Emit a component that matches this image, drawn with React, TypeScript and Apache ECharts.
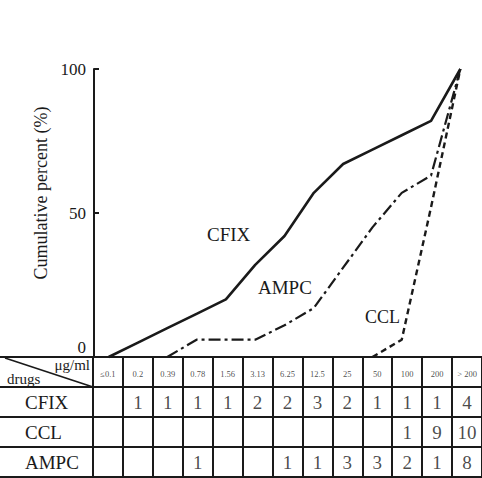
import React, { useEffect, useRef } from "react";
import * as echarts from "echarts";

// ---- data ----
const concentrations = ["≤0.1", "0.2", "0.39", "0.78", "1.56", "3.13", "6.25", "12.5", "25", "50", "100", "200", "> 200"];
const drugs = ["CFIX", "CCL", "AMPC"];
const cfixCounts = [null, 1, 1, 1, 1, 2, 2, 3, 2, 1, 1, 1, 4];
const cclCounts = [null, null, null, null, null, null, null, null, null, null, 1, 9, 10];
const ampcCounts = [null, null, null, 1, null, null, 1, 1, 3, 3, 2, 1, 8];
const cfixCumulative = [0, 5, 10, 15, 20, 32, 42, 57, 67, 72, 77, 82, 100];
const ampcCumulative = [null, null, 0, 6, 6, 6, 11, 17, 31, 45, 57, 63, 100];
const cclCumulative = [null, null, null, null, null, null, null, null, null, 0, 6, 52, 100];
const yMin = 0;
const yMax = 100;
const yInterval = 50;

// ---- layout ----
const W = 482;
const H = 478;
const FONT = "'Liberation Serif', 'Times New Roman', serif";
const INK = "#1a1a1a";
const TABLE_TOP = 357;
const ROW_H = 30;
const TABLE_LEFT = 93;
const ROW_KEYS = ["hdr", ...drugs];

export default function App() {
  const ref = useRef<HTMLDivElement>(null);

  useEffect(() => {
    if (!ref.current) return;
    const chart = echarts.init(ref.current, undefined, { renderer: "svg" });

    const countsByDrug: Record<string, (number | null)[]> = {
      CFIX: cfixCounts,
      CCL: cclCounts,
      AMPC: ampcCounts,
    };
    const headerData = concentrations.map((c, i) => [i, "hdr", c]);
    const countData: any[] = [];
    drugs.forEach((d) => {
      countsByDrug[d].forEach((v, i) => {
        if (v != null) countData.push([i, d, v]);
      });
    });

    const graphics: any[] = [];
    // first-column horizontal lines
    for (let r = 0; r <= ROW_KEYS.length; r++) {
      const y = TABLE_TOP + r * ROW_H;
      graphics.push({
        type: "line",
        shape: { x1: 0, y1: y, x2: TABLE_LEFT, y2: y },
        style: { stroke: INK, lineWidth: 2 },
      });
    }
    graphics.push({
      type: "line",
      shape: { x1: 5, y1: TABLE_TOP + 1, x2: TABLE_LEFT, y2: TABLE_TOP + ROW_H },
      style: { stroke: INK, lineWidth: 1.6 },
    });
    graphics.push({
      type: "text",
      x: 7,
      y: TABLE_TOP + 22,
      style: { text: "drugs", font: `15px ${FONT}`, fill: INK, verticalAlign: "middle", align: "left" },
    });
    graphics.push({
      type: "text",
      x: 90,
      y: TABLE_TOP + 8,
      style: { text: "μg/ml", font: `15px ${FONT}`, fill: INK, verticalAlign: "middle", align: "right" },
    });
    const curveLabels = [
      { text: "CFIX", x: 207, y: 234, size: 19 },
      { text: "AMPC", x: 258, y: 287, size: 19 },
      { text: "CCL", x: 365, y: 317, size: 18 },
    ];
    curveLabels.forEach((l) =>
      graphics.push({
        type: "text",
        x: l.x,
        y: l.y,
        style: { text: l.text, font: `${l.size}px ${FONT}`, fill: INK, verticalAlign: "middle", align: "left" },
      })
    );

    chart.setOption({
      animation: false,
      backgroundColor: "#ffffff",
      textStyle: { fontFamily: FONT, color: INK },
      grid: [
        { left: 94, right: 7, top: 69, height: TABLE_TOP - 69 },
        { left: TABLE_LEFT, right: 0, top: TABLE_TOP, height: ROW_H * ROW_KEYS.length },
      ],
      xAxis: [
        {
          gridIndex: 0,
          type: "category",
          data: concentrations,
          boundaryGap: true,
          axisLine: { show: false },
          axisTick: { show: false },
          axisLabel: { show: false },
          splitLine: { show: false },
        },
        {
          gridIndex: 1,
          type: "category",
          data: concentrations,
          position: "top",
          boundaryGap: true,
          axisLine: { show: true, lineStyle: { color: INK, width: 2 } },
          axisTick: { show: false, interval: 0 },
          axisLabel: { show: false, interval: 0 },
          splitLine: { show: true, interval: 0, lineStyle: { color: INK, width: 2 } },
        },
      ],
      yAxis: [
        {
          gridIndex: 0,
          type: "value",
          min: yMin,
          max: yMax,
          interval: yInterval,
          name: "Cumulative percent (%)",
          nameLocation: "middle",
          nameRotate: 90,
          nameGap: 44,
          nameTextStyle: { fontFamily: FONT, fontSize: 18, color: INK, padding: [0, 0, 0, 40] },
          axisLine: { show: true, lineStyle: { color: INK, width: 2 } },
          axisTick: { show: true, inside: true, length: 5, lineStyle: { color: INK, width: 2 } },
          splitLine: { show: false },
          axisLabel: {
            margin: 8,
            fontFamily: FONT,
            fontSize: 17,
            color: INK,
            formatter: (v: number) => (v === 0 ? "{z|0}" : String(v)),
            rich: { z: { padding: [0, 0, 20, 0], fontFamily: FONT, fontSize: 17, color: INK } },
          },
        },
        {
          gridIndex: 1,
          type: "category",
          data: ROW_KEYS,
          inverse: true,
          boundaryGap: true,
          axisLine: { show: true, lineStyle: { color: INK, width: 2 } },
          axisTick: { show: false, interval: 0 },
          splitLine: { show: true, interval: 0, lineStyle: { color: INK, width: 2 } },
          axisLabel: {
            interval: 0,
            align: "left",
            margin: 68,
            fontFamily: FONT,
            fontSize: 19,
            color: INK,
            formatter: (v: string) => (v === "hdr" ? "" : v),
          },
        },
      ],
      series: [
        {
          name: "CFIX",
          type: "line",
          xAxisIndex: 0,
          yAxisIndex: 0,
          data: cfixCumulative,
          symbol: "none",
          clip: false,
          lineStyle: { color: INK, width: 2.6, type: "solid" },
        },
        {
          name: "AMPC",
          type: "line",
          xAxisIndex: 0,
          yAxisIndex: 0,
          data: ampcCumulative,
          symbol: "none",
          clip: false,
          lineStyle: { color: INK, width: 2.2, type: [12, 4, 3, 4] },
        },
        {
          name: "CCL",
          type: "line",
          xAxisIndex: 0,
          yAxisIndex: 0,
          data: cclCumulative,
          symbol: "none",
          clip: false,
          lineStyle: { color: INK, width: 2.4, type: [6, 4] },
        },
        {
          type: "scatter",
          xAxisIndex: 1,
          yAxisIndex: 1,
          data: headerData,
          symbolSize: 1,
          itemStyle: { color: "rgba(0,0,0,0)" },
          silent: true,
          label: {
            show: true,
            position: "inside",
            offset: [0, 2],
            fontFamily: FONT,
            fontSize: 8.5,
            color: INK,
            formatter: (p: any) => p.value[2],
          },
        },
        {
          type: "scatter",
          xAxisIndex: 1,
          yAxisIndex: 1,
          data: countData,
          symbolSize: 1,
          itemStyle: { color: "rgba(0,0,0,0)" },
          silent: true,
          label: {
            show: true,
            position: "inside",
            fontFamily: FONT,
            fontSize: 19,
            color: INK,
            formatter: (p: any) => String(p.value[2]),
          },
        },
      ],
      graphic: graphics,
    });

    return () => chart.dispose();
  }, []);

  return (
    <div
      ref={ref}
      style={{ position: "fixed", left: 0, top: 0, width: W, height: H, background: "#fff" }}
    />
  );
}
